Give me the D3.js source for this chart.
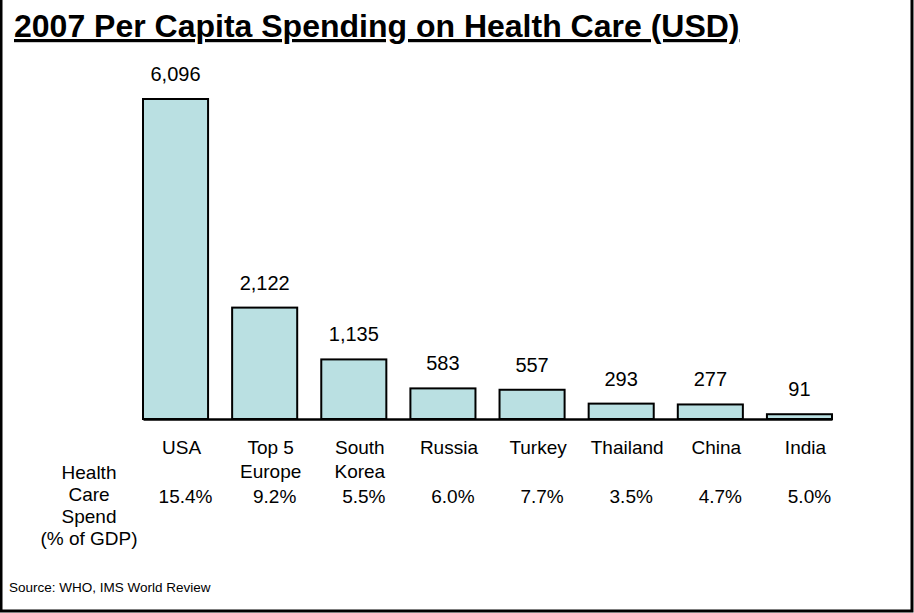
<!DOCTYPE html>
<html>
<head>
<meta charset="utf-8">
<script src="https://cdn.jsdelivr.net/npm/d3@7"></script>
<style>
  body { margin: 0; background: #fff; }
  svg { display: block; font-family: "Liberation Sans", Arial, sans-serif; }
</style>
</head>
<body>
<div id="chart"></div>
<script>
// chart data
const countries = ['USA', 'Top 5\nEurope', 'South\nKorea', 'Russia', 'Turkey', 'Thailand', 'China', 'India'];
const spending = [6096, 2122, 1135, 583, 557, 293, 277, 91];
const gdpShare = ['15.4%', '9.2%', '5.5%', '6.0%', '7.7%', '3.5%', '4.7%', '5.0%'];
const gdpLabel = ['Health', 'Care', 'Spend', '(% of GDP)'];

const width = 914, height = 613;
const margin = { top: 99, left: 143, right: 82, baseline: 419 };

const svg = d3.select('#chart').append('svg')
    .attr('width', width)
    .attr('height', height);

// frame (left, right, bottom only)
svg.append('path')
    .attr('d', `M1,0 V${height - 2} H${width - 2} V0`)
    .attr('fill', 'none')
    .attr('stroke', '#000')
    .attr('stroke-width', 3);

// title
svg.append('text')
    .attr('x', 14)
    .attr('y', 37)
    .attr('font-size', 32)
    .attr('font-weight', 'bold')
    .attr('text-decoration', 'underline')
    .text('2007 Per Capita Spending on Health Care (USD)');

// scales
const x = d3.scaleBand()
    .domain(countries)
    .range([margin.left, width - margin.right])
    .paddingInner(0.27)
    .paddingOuter(0);

const y = d3.scaleLinear()
    .domain([0, d3.max(spending)])
    .range([margin.baseline, margin.top]);

const data = countries.map((c, i) => ({ c, v: spending[i], p: gdpShare[i] }));

// bars
svg.append('g').selectAll('rect')
    .data(data)
    .join('rect')
    .attr('x', d => x(d.c))
    .attr('y', d => y(d.v))
    .attr('width', x.bandwidth())
    .attr('height', d => y(0) - y(d.v))
    .attr('fill', '#bae0e2')
    .attr('stroke', '#000')
    .attr('stroke-width', 2);

// value labels
svg.append('g').selectAll('text')
    .data(data)
    .join('text')
    .attr('x', d => x(d.c) + x.bandwidth() / 2)
    .attr('y', d => y(d.v) - 18)
    .attr('text-anchor', 'middle')
    .attr('font-size', 20)
    .text(d => d3.format(',')(d.v));

// x axis: line + category labels
const xAxis = d3.axisBottom(x).tickSize(0).tickSizeOuter(0);
const gx = svg.append('g')
    .attr('transform', `translate(0,${y(0)})`)
    .call(xAxis);
gx.select('.domain').attr('stroke-width', 2.5);
gx.selectAll('.tick text')
    .attr('font-size', 19)
    .attr('font-family', null)
    .attr('fill', '#000')
    .attr('dy', null)
    .attr('y', 35)
    .each(function (d) {
        const t = d3.select(this);
        const lines = d.split('\n');
        t.text(null);
        lines.forEach((l, i) => {
            t.append('tspan')
                .attr('x', 6)
                .attr('dy', i === 0 ? 0 : 24)
                .text(l);
        });
    });

// % of GDP row
svg.append('g').selectAll('text')
    .data(data)
    .join('text')
    .attr('x', d => x(d.c) + x.bandwidth() / 2 + 10)
    .attr('y', 503)
    .attr('text-anchor', 'middle')
    .attr('font-size', 19)
    .text(d => d.p);

svg.append('text')
    .attr('text-anchor', 'middle')
    .attr('font-size', 19)
    .selectAll('tspan')
    .data(gdpLabel)
    .join('tspan')
    .attr('x', 89)
    .attr('y', (d, i) => 479 + i * 22)
    .text(d => d);

// source
svg.append('text')
    .attr('x', 9)
    .attr('y', 592)
    .attr('font-size', 13.5)
    .text('Source: WHO, IMS World Review');
</script>
</body>
</html>
